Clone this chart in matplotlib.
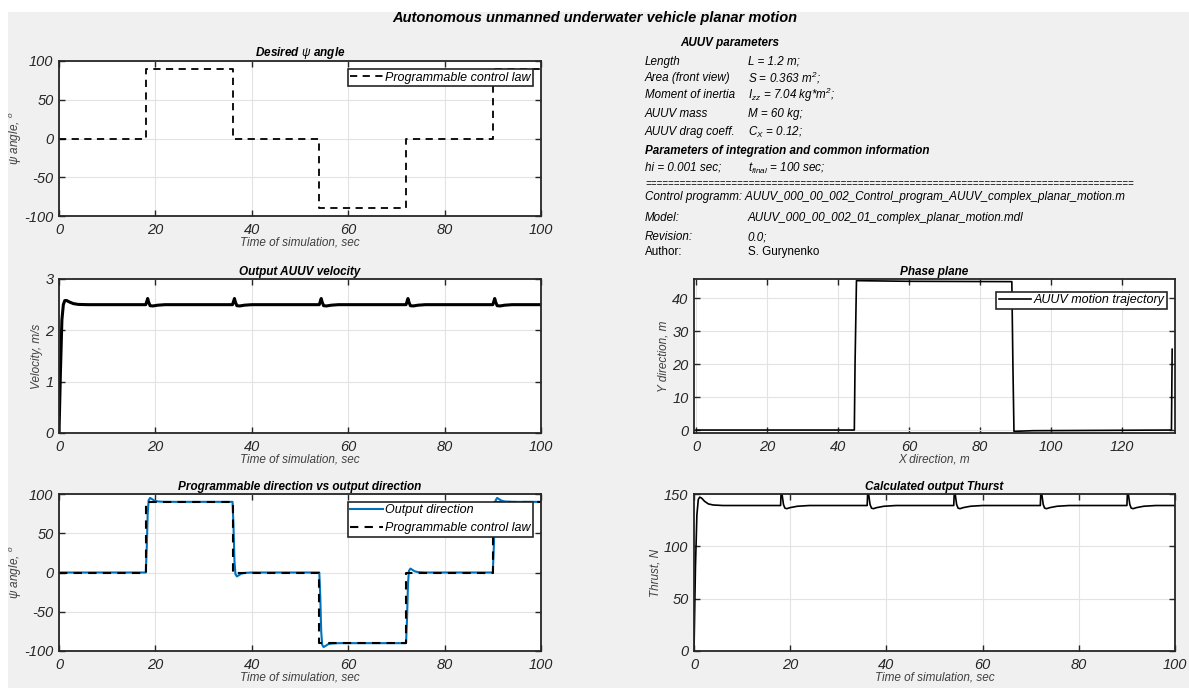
import matplotlib
matplotlib.use("Agg")
import matplotlib.pyplot as plt
from matplotlib.patches import Rectangle

# ── Data ──────────────────────────────────────────────────────────────────────
t_law   = [0, 18, 18, 36, 36, 54, 54, 72, 72, 90, 90, 100]
psi_law = [0, 0, 90, 90, 0, 0, -90, -90, 0, 0, 90, 90]

t_out = [0, 18, 18.2, 18.4, 18.6, 18.9, 19.3, 19.8, 20.5, 22,
         36, 36.2, 36.4, 36.6, 36.9, 37.3, 37.8, 38.5, 40,
         54, 54.2, 54.4, 54.6, 54.9, 55.3, 55.8, 56.5, 58,
         72, 72.2, 72.4, 72.6, 72.9, 73.3, 73.8, 74.5, 76,
         90, 90.2, 90.4, 90.6, 90.9, 91.3, 91.8, 92.5, 94, 100]
psi_out = [0, 0, 30, 75, 92, 95, 93.5, 91.5, 90.5, 90,
           90, 60, 15, -2, -5, -3.5, -1.5, -0.5, 0,
           0, -30, -75, -92, -95, -93.5, -91.5, -90.5, -90,
           -90, -60, -15, 2, 5, 3.5, 1.5, 0.5, 0,
           0, 30, 75, 92, 95, 93.5, 91.5, 90.5, 90, 90]

t_vel = [0, 0.3, 0.6, 0.9, 1.2, 1.6, 2.2, 3, 4, 6,
         18, 18.2, 18.4, 18.6, 18.9, 19.5, 20.5, 22,
         36, 36.2, 36.4, 36.6, 36.9, 37.5, 38.5, 40,
         54, 54.2, 54.4, 54.6, 54.9, 55.5, 56.5, 58,
         72, 72.2, 72.4, 72.6, 72.9, 73.5, 74.5, 76,
         90, 90.2, 90.4, 90.6, 90.9, 91.5, 92.5, 94, 100]
vel = [0, 1.2, 2.2, 2.5, 2.58, 2.58, 2.55, 2.52, 2.505, 2.5,
       2.5, 2.56, 2.62, 2.55, 2.48, 2.475, 2.49, 2.5,
       2.5, 2.56, 2.62, 2.55, 2.48, 2.475, 2.49, 2.5,
       2.5, 2.56, 2.62, 2.55, 2.48, 2.475, 2.49, 2.5,
       2.5, 2.56, 2.62, 2.55, 2.48, 2.475, 2.49, 2.5,
       2.5, 2.56, 2.62, 2.55, 2.48, 2.475, 2.49, 2.5, 2.5]

t_thr = [0, 0.3, 0.6, 0.9, 1.2, 1.6, 2.2, 3, 4, 6,
         18, 18.15, 18.3, 18.6, 18.9, 19.3, 20, 21.5, 24,
         36, 36.15, 36.3, 36.6, 36.9, 37.3, 38, 39.5, 42,
         54, 54.15, 54.3, 54.6, 54.9, 55.3, 56, 57.5, 60,
         72, 72.15, 72.3, 72.6, 72.9, 73.3, 74, 75.5, 78,
         90, 90.15, 90.3, 90.6, 90.9, 91.3, 92, 93.5, 96, 100]
thrust = [0, 80, 130, 145, 147, 146, 143, 140.5, 139.5, 139,
          139, 156, 150, 140, 136.5, 136, 137, 138.3, 139,
          139, 156, 150, 140, 136.5, 136, 137, 138.3, 139,
          139, 156, 150, 140, 136.5, 136, 137, 138.3, 139,
          139, 156, 150, 140, 136.5, 136, 137, 138.3, 139,
          139, 156, 150, 140, 136.5, 136, 137, 138.3, 139, 139]

x_traj = [0, 44.6, 44.8, 45.2, 60, 89.0, 89.3, 89.6, 95, 134.0, 134.1, 134.2]
y_traj = [0, 0, 20, 45.3, 45.1, 45.0, 20, -0.4, -0.2, 0, 12, 24.5]

time_ticks  = [0, 20, 40, 60, 80, 100]
psi_ticks   = [-100, -50, 0, 50, 100]
vel_ticks   = [0, 1, 2, 3]
phx_ticks   = [0, 20, 40, 60, 80, 100, 120]
phy_ticks   = [0, 10, 20, 30, 40]
thr_ticks   = [0, 50, 100, 150]

# ── Style (MATLAB-like) ───────────────────────────────────────────────────────
W, H = 1189, 688
BG   = "#F0F0F0"
DARK = "#262626"
GRID = "#E3E3E3"
BLUE = "#0072BD"

plt.rcParams.update({
    "font.family": "Liberation Sans",
    "font.style": "italic",
    "axes.unicode_minus": False,
    "mathtext.fontset": "custom",
    "mathtext.rm": "Liberation Sans:italic",
    "mathtext.it": "Liberation Sans:italic",
    "mathtext.bf": "Liberation Sans:bold:italic",
    "xtick.direction": "in",
    "ytick.direction": "in",
    "xtick.top": True,
    "ytick.right": True,
    "xtick.color": DARK,
    "ytick.color": DARK,
    "axes.edgecolor": DARK,
    "axes.linewidth": 1.3,
})

fig = plt.figure(figsize=(W / 100, H / 100), dpi=100)
fig.patch.set_facecolor("white")
fig.patches.append(Rectangle((8 / W, 0), 1, 1 - 12 / H, transform=fig.transFigure,
                             facecolor=BG, edgecolor="none", zorder=-10))


def px_axes(x0, y0, x1, y1):
    ax = fig.add_axes([x0 / W, 1 - y1 / H, (x1 - x0) / W, (y1 - y0) / H])
    ax.grid(True, color=GRID, lw=0.8)
    ax.set_axisbelow(True)
    ax.tick_params(length=4, width=1.0)
    ax.tick_params(axis="x", pad=5)
    ax.tick_params(axis="y", pad=4)
    return ax


def set_ticks(ax, xt, yt):
    ax.set_xticks(xt, labels=[str(v) for v in xt], fontsize=10.5, fontstyle="italic")
    ax.set_yticks(yt, labels=[str(v) for v in yt], fontsize=10.5, fontstyle="italic")


def style(ax, title, xlabel, ylabel):
    ax.set_title(title, fontsize=8.5, fontweight="bold", pad=3, color="black")
    ax.set_xlabel(xlabel, fontsize=8.5, color="#404040", labelpad=0)
    ax.set_ylabel(ylabel, fontsize=8.5, color="#404040", labelpad=2)


leg_kw = dict(fancybox=False, framealpha=1, edgecolor=DARK, fontsize=9,
              borderpad=0.2, handlelength=2.6, handletextpad=0.2,
              labelspacing=0.45, borderaxespad=0.64)

# ── Panel 1: desired psi ──────────────────────────────────────────────────────
ax1 = px_axes(59, 61, 541, 216)
ax1.plot(t_law, psi_law, color="black", lw=1.3, ls="--", dashes=(4, 3),
         label="Programmable control law")
ax1.set_xlim(0, 100)
ax1.set_ylim(-100, 100)
set_ticks(ax1, time_ticks, psi_ticks)
style(ax1, r"Desired $\psi$ angle", "Time of simulation, sec", r"$\psi$ angle, $^o$")
ax1.yaxis.set_label_coords(-0.072, 0.5)
ax1.legend(loc="upper right", **leg_kw).get_frame().set_linewidth(1.2)

# ── Panel 2: velocity ─────────────────────────────────────────────────────────
ax2 = px_axes(59, 279, 541, 433)
ax2.plot(t_vel, vel, color="black", lw=2.2)
ax2.set_xlim(0, 100)
ax2.set_ylim(0, 3)
set_ticks(ax2, time_ticks, vel_ticks)
style(ax2, "Output AUUV velocity", "Time of simulation, sec", "Velocity, m/s")

# ── Panel 3: programmable vs output direction ────────────────────────────────
ax3 = px_axes(59, 494, 541, 651)
ax3.plot(t_out, psi_out, color=BLUE, lw=1.5, label="Output direction")
ax3.plot(t_law, psi_law, color="black", lw=1.5, ls="--", dashes=(4, 3),
         label="Programmable control law")
ax3.set_xlim(0, 100)
ax3.set_ylim(-100, 100)
set_ticks(ax3, time_ticks, psi_ticks)
style(ax3, "Programmable direction vs output direction",
      "Time of simulation, sec", r"$\psi$ angle, $^o$")
ax3.yaxis.set_label_coords(-0.072, 0.5)
ax3.legend(loc="upper right", **leg_kw).get_frame().set_linewidth(1.2)

# ── Panel 4: phase plane ──────────────────────────────────────────────────────
ax4 = px_axes(694, 279, 1175, 433)
ax4.plot(x_traj, y_traj, color="black", lw=1.2, label="AUUV motion trajectory")
ax4.set_xlim(-0.6, 135)
ax4.set_ylim(-0.9, 45.8)
set_ticks(ax4, phx_ticks, phy_ticks)
style(ax4, "Phase plane", "X direction, m", "Y direction, m")
ax4.legend(loc="upper right", bbox_to_anchor=(1.0, 1 - 5 / 154),
           **leg_kw).get_frame().set_linewidth(1.2)

# ── Panel 5: thrust ───────────────────────────────────────────────────────────
ax5 = px_axes(694, 494, 1175, 651)
ax5.plot(t_thr, thrust, color="black", lw=1.2)
ax5.set_xlim(0, 100)
ax5.set_ylim(0, 150)
set_ticks(ax5, time_ticks, thr_ticks)
style(ax5, "Calculated output Thurst", "Time of simulation, sec", "Thrust, N")

# ── Text block ────────────────────────────────────────────────────────────────
def ftext(x, y, s, **kw):
    kw.setdefault("fontsize", 8.4)
    fig.text(x / W, 1 - y / H, s, va="center", ha="left", **kw)

fig.text(595 / W, 1 - 18 / H, "Autonomous unmanned underwater vehicle planar motion",
         ha="center", va="center", fontsize=10.5, fontweight="bold")

C1, C2 = 645, 748
ftext(680, 43, "AUUV parameters", fontweight="bold")
rows = [
    (62,  "Length",            "L = 1.2 m;"),
    (78,  "Area (front view)", r"S = 0.363 m$^2$;"),
    (95,  "Moment of inertia", r"I$_{zz}$ = 7.04 kg*m$^2$;"),
    (114, "AUUV mass",         "M = 60 kg;"),
    (132, "AUUV drag coeff.",  r"C$_X$ = 0.12;"),
]
for y, a, b in rows:
    ftext(C1, y, a)
    ftext(C2, y, b)
ftext(C1, 151, "Parameters of integration and common information", fontweight="bold")
ftext(C1, 168, "hi = 0.001 sec;")
ftext(C2, 168, r"t$_{final}$ = 100 sec;")
ftext(C1, 184, "=" * 85, fontsize=7)
ftext(C1, 197, "Control programm: AUUV_000_00_002_Control_program_AUUV_complex_planar_motion.m")
ftext(C1, 218, "Model:")
ftext(C2, 218, "AUUV_000_00_002_01_complex_planar_motion.mdl")
ftext(C1, 237, "Revision:")
ftext(C2, 237, "0.0;")
ftext(C1, 252, "Author:", fontstyle="normal")
ftext(C2, 252, "S. Gurynenko", fontstyle="normal")

fig.savefig("out.png", dpi=100, facecolor=fig.get_facecolor())
